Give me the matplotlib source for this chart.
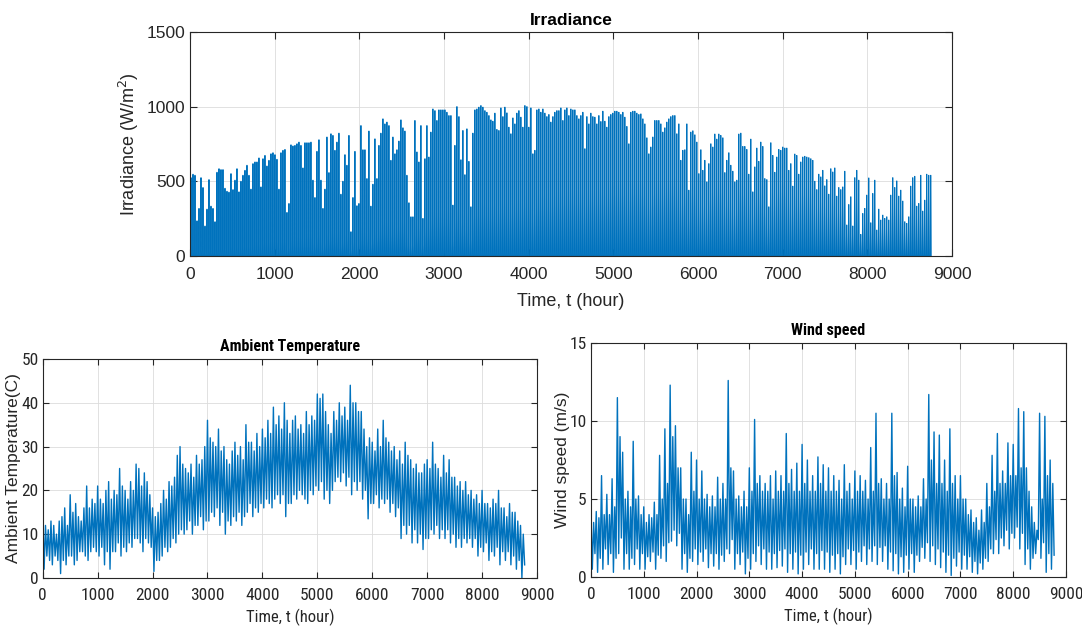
import numpy as np
import matplotlib.pyplot as plt

# daily peak irradiance (W/m^2), one value per day
irr_peak = [
    524, 547, 540, 235, 318, 524, 458, 200, 313, 511, 333, 318, 229, 560, 584, 578, 578, 453, 433, 427,
    551, 444, 507, 584, 429, 500, 540, 573, 607, 540, 447, 618, 629, 629, 656, 462, 651, 673, 602, 640,
    684, 691, 678, 647, 447, 691, 707, 713, 291, 351, 744, 736, 740, 751, 762, 740, 589, 758, 758, 758,
    762, 507, 391, 700, 778, 507, 318, 447, 796, 558, 818, 807, 707, 762, 822, 413, 500, 678, 607, 807,
    162, 391, 700, 336, 351, 873, 711, 711, 518, 836, 333, 480, 784, 518, 740, 822, 918, 884, 896, 873,
    640, 796, 684, 711, 769, 911, 858, 836, 540, 356, 262, 262, 907, 696, 629, 873, 251, 651, 873, 662,
    829, 984, 973, 907, 978, 978,
    978, 978, 962, 940, 940, 340, 740, 1000, 933, 644, 840, 544, 851, 633, 329, 822, 978, 984, 996, 1007,
    996, 973, 962, 940, 911, 902, 956, 847, 840, 991, 933, 996, 958, 862, 818, 924, 884, 956, 973, 929,
    862, 1007, 1000, 862, 991, 684, 707, 978, 984, 962, 984, 956, 933, 947, 896, 933, 962, 973, 973, 991,
    907, 978, 991, 940, 984, 978, 978, 940, 918, 940, 962, 718, 933, 884, 956, 933, 929, 884, 940, 900,
    969, 902, 862, 933, 947, 956, 969, 969, 962, 947, 962, 929, 867, 751, 962, 969, 969, 956, 947, 951,
    918, 884, 791, 684, 729, 796, 907, 907, 907, 884, 829, 858, 896, 918, 933, 940, 940, 818, 884, 640,
    707, 711, 884,
    440, 829, 838, 811, 762, 551, 711, 573, 640, 496, 618, 751, 729, 816, 782, 816, 807, 791, 558, 640,
    691, 607, 567, 496, 507, 816, 822, 733, 733, 713, 547, 782, 429, 596, 722, 633, 762, 733, 518, 511,
    329, 758, 673, 560, 662, 713, 707, 729, 722, 722, 573, 618, 467, 682, 673, 547, 629, 662, 667, 662,
    658, 651, 640, 500, 444, 547, 529, 573, 469, 511, 413, 584, 562, 589, 400, 458, 444, 462, 567, 207,
    344, 396, 200, 524, 573, 507, 144, 284, 318, 407, 522, 222, 418, 507, 173, 313, 240, 273, 251, 262,
    240, 407, 524, 458, 502, 400, 440, 367, 229, 218, 262, 467, 524, 533, 333, 351, 540, 300, 373, 547,
    540, 540,
]

# ambient temperature (C): high / low of each 50-hour block
temp_hi = [15, 12, 11, 13, 12, 10, 13, 14, 16, 12, 19, 15, 17, 14, 13, 16, 21, 16, 18, 17,
           21, 18, 17, 20, 22, 18, 20, 19, 25, 21, 20, 18, 22, 20, 26, 25, 21, 24, 22, 19,
           16, 14, 15, 17, 20, 18, 22, 21, 23, 28, 30, 26, 25, 24, 26, 23, 28, 26, 27, 30,
           36, 32, 31, 30, 34, 29, 30, 27, 26, 29, 31, 28, 30, 27, 35, 31, 31, 29, 33, 30,
           34, 32, 36, 33, 39, 35, 37, 34, 40, 36, 33, 36, 37, 34, 35, 33, 38, 35, 37, 36,
           42, 41, 42, 38, 35, 33, 38, 36, 40, 37, 39, 36, 44, 40, 40, 38, 38, 34, 30, 32,
           31, 29, 34, 30, 36, 32, 31, 29, 30, 27, 29, 26, 31, 28, 27, 25, 26, 24, 24, 26,
           27, 25, 31, 26, 25, 23, 28, 24, 27, 23, 23, 21, 22, 20, 22, 19, 20, 18, 19, 17,
           20, 17, 17, 16, 18, 17, 20, 16, 16, 14, 17, 15, 15, 13, 12, 10]
temp_lo = [2, 5, 4, 3, 5, 4, 1, 4, 3, 5, 5, 3, 4, 6, 6, 5, 4, 6, 7, 6,
           5, 7, 3, 6, 2, 6, 6, 8, 5, 7, 6, 8, 7, 9, 9, 8, 6, 9, 8, 7,
           1.5, 4, 4, 5, 7, 6, 7, 9, 8, 10, 11, 10, 11, 13, 10, 12, 12, 14, 11, 13,
           13, 15, 14, 16, 12, 15, 10, 13, 12, 14, 13, 15, 12, 14, 15, 17, 14, 16, 15, 17,
           16, 18, 17, 16, 18, 19, 17, 19, 14, 17, 17, 19, 18, 20, 19, 18, 17, 20, 19, 21,
           20, 22, 18, 20, 17, 20, 22, 23, 22, 24, 21, 23, 19, 22, 20, 22, 18, 20, 13.5, 17,
           17, 19, 16, 18, 17, 18, 15, 17, 14, 16, 9, 12, 10, 12, 8, 11, 8, 10, 6.5, 9,
           9, 11, 10, 12, 9, 11, 9, 11, 8, 10, 7, 9, 7, 9, 8, 9, 7, 9, 5, 7,
           6, 8, 4, 6, 5, 7, 3, 6, 4, 6, 3, 5, 2, 4, 0, 3]

# wind speed (m/s): high / low of each 50-hour block
wind_hi = [4.0, 3.5, 4.2, 3.8, 6.5, 4.0, 5.3, 4.0, 6.3, 4.5, 11.5, 9.0, 8.0, 5.0, 5.5, 4.5, 8.7, 5.0, 5.2, 4.0,
           4.5, 3.5, 4.0, 3.8, 4.8, 4.0, 7.8, 5.0, 9.5, 6.0, 12.3, 9.0, 9.7, 7.0, 7.0, 5.0, 5.0, 4.0, 8.0, 5.5,
           7.5, 5.0, 6.8, 5.0, 5.3, 4.5, 5.2, 4.5, 6.4, 5.0, 6.0, 5.0, 12.6, 7.0, 6.8, 5.0, 5.2, 4.5, 5.5, 4.5,
           7.0, 5.5, 10.1, 6.0, 6.5, 5.5, 6.0, 5.5, 6.5, 5.0, 6.8, 5.5, 6.5, 5.5, 9.2, 6.0, 6.9, 5.5, 7.3, 5.5,
           8.5, 6.0, 7.5, 5.5, 6.5, 5.5, 7.7, 6.0, 7.2, 5.5, 7.0, 5.5, 6.5, 5.5, 6.2, 5.0, 7.2, 5.5, 6.0, 5.0,
           6.8, 5.5, 6.5, 5.5, 6.2, 5.0, 8.3, 5.5, 10.5, 6.0, 6.3, 5.0, 6.0, 5.0, 10.5, 6.5, 6.7, 5.0, 5.7, 4.5,
           7.1, 5.0, 5.0, 4.5, 5.2, 4.5, 6.3, 5.0, 11.7, 7.5, 9.3, 6.0, 9.1, 6.0, 7.5, 5.5, 9.5, 6.0, 6.5, 5.0,
           6.5, 5.0, 5.0, 4.0, 4.3, 3.5, 3.8, 3.0, 4.3, 3.5, 6.0, 4.5, 7.8, 5.5, 9.2, 6.0, 6.8, 6.0, 8.6, 6.5,
           8.5, 6.5, 10.8, 7.0, 10.6, 7.0, 5.5, 4.5, 3.5, 3.0, 10.5, 5.0, 10.3, 6.5, 7.5, 6.0]
wind_lo = [0.5, 1.5, 0.3, 1.2, 0.5, 1.8, 0.8, 1.5, 0.3, 1.2, 1.5, 2.5, 0.5, 1.5, 0.5, 1.2, 0.8, 1.8, 0.5, 1.5,
           0.5, 1.3, 1.0, 1.6, 0.5, 1.4, 1.2, 2.0, 1.0, 2.2, 2.3, 3.0, 2.0, 2.8, 0.5, 1.5, 0.3, 1.2, 1.0, 1.8,
           0.8, 1.6, 1.0, 1.8, 0.6, 1.5, 0.7, 1.5, 0.5, 1.4, 1.0, 1.8, 1.5, 2.4, 0.5, 1.5, 0.8, 1.6, 0.2, 1.2,
           0.5, 1.5, 1.0, 2.0, 0.8, 1.8, 0.5, 1.6, 0.5, 1.5, 0.6, 1.7, 0.7, 1.8, 0.3, 1.5, 0.5, 1.6, 0.2, 1.4,
           0.5, 1.6, 0.8, 1.8, 0.5, 1.5, 0.5, 1.7, 0.5, 1.6, 0.3, 1.4, 0.5, 1.5, 0.2, 1.3, 0.8, 1.8, 0.8, 1.7,
           0.5, 1.6, 1.0, 2.0, 0.8, 1.8, 1.0, 2.0, 0.8, 1.9, 1.0, 2.0, 0.5, 1.6, 0.4, 1.5, 0.2, 1.3, 0.3, 1.4,
           0.5, 1.5, 0.3, 1.4, 1.0, 1.9, 1.2, 2.2, 1.0, 2.0, 0.8, 1.8, 0.6, 1.6, 0.3, 1.4, 0.1, 1.2, 0.7, 1.6,
           0.5, 1.4, 0.5, 1.3, 0.3, 1.0, 0.2, 0.9, 0.5, 1.2, 1.0, 1.8, 1.5, 2.4, 1.5, 2.5, 2.0, 3.0, 1.8, 2.8,
           2.5, 3.2, 1.8, 2.8, 0.8, 1.8, 0.5, 1.2, 1.5, 2.4, 1.2, 2.2, 0.3, 1.5, 0.5, 1.4]

block = 50  # hours per envelope reading
blue = "#0072BD"
wide = ["Liberation Sans", "DejaVu Sans"]
narrow = ["Roboto Condensed", "Liberation Sans", "DejaVu Sans"]

plt.rcParams["font.family"] = wide


def zigzag(hi, lo):
    t = np.arange(len(hi)) * block
    x = np.column_stack([t, t + block / 2]).ravel()
    y = np.column_stack([hi, lo]).ravel()
    return x, y


def style(ax, tick_len):
    ax.grid(True, color="#DCDCDC", linewidth=0.6)
    ax.set_axisbelow(True)
    ax.tick_params(direction="in", top=True, right=True, length=tick_len,
                   width=0.8, colors="#262626")
    for s in ax.spines.values():
        s.set_color("#262626")
        s.set_linewidth(0.8)


fig = plt.figure(figsize=(10.82, 6.35), dpi=100)

# --- Irradiance ---
ax1 = fig.add_axes([0.1756, 0.5969, 0.7043, 0.3527])
n_days = len(irr_peak)
day = 8760 / n_days
t0 = np.arange(n_days) * day
z = np.zeros(n_days)
irr_t = np.column_stack([t0 + 0.25 * day, t0 + 0.42 * day, t0 + 0.58 * day, t0 + 0.75 * day]).ravel()
irr_v = np.column_stack([z, irr_peak, irr_peak, z]).ravel()
ax1.plot(irr_t, irr_v, color=blue, linewidth=0.7)
ax1.set_xlim(0, 9000)
ax1.set_ylim(0, 1500)
ax1.set_xticks(np.arange(0, 9001, 1000))
ax1.set_yticks([0, 500, 1000, 1500])
style(ax1, 5)
ax1.tick_params(labelsize=12.5, colors="#262626")
ax1.tick_params(axis="x", pad=8)
ax1.set_title("Irradiance", fontsize=12.5, fontweight="bold", pad=5)
ax1.set_xlabel("Time, t (hour)", fontsize=13, color="#262626", labelpad=8)
ax1.set_ylabel("Irradiance (W/m$^2$)", fontsize=13, color="#262626")

# --- Ambient temperature ---
ax2 = fig.add_axes([0.0395, 0.0898, 0.4568, 0.3449])
tx, ty = zigzag(temp_hi, temp_lo)
ax2.plot(tx, ty, color=blue, linewidth=1.0)
ax2.set_xlim(0, 9000)
ax2.set_ylim(0, 50)
ax2.set_xticks(np.arange(0, 9001, 1000))
ax2.set_yticks(np.arange(0, 51, 10))
style(ax2, 4)
ax2.tick_params(labelsize=12.5)
ax2.tick_params(axis="x", pad=7)
ax2.tick_params(axis="y", pad=3)
ax2.set_title("Ambient Temperature", fontsize=11.5, fontweight="bold", family=narrow, pad=6)
ax2.set_xlabel("Time, t (hour)", fontsize=12, family=narrow, color="#262626", labelpad=4)
ax2.set_ylabel("Ambient Temperature(C)", fontsize=12.5, color="#262626", labelpad=0)

# --- Wind speed ---
ax3 = fig.add_axes([0.5462, 0.0913, 0.4390, 0.3685])
wx, wy = zigzag(wind_hi, wind_lo)
ax3.plot(wx, wy, color=blue, linewidth=1.0)
ax3.set_xlim(0, 9000)
ax3.set_ylim(0, 15)
ax3.set_xticks(np.arange(0, 9001, 1000))
ax3.set_yticks([0, 5, 10, 15])
style(ax3, 4)
ax3.tick_params(labelsize=12.5)
ax3.tick_params(axis="x", pad=7)
ax3.tick_params(axis="y", pad=3)
ax3.set_title("Wind speed", fontsize=11.5, fontweight="bold", family=narrow, pad=6)
ax3.set_xlabel("Time, t (hour)", fontsize=12, family=narrow, color="#262626", labelpad=4)
ax3.set_ylabel("Wind speed (m/s)", fontsize=12.5, color="#262626", labelpad=0)

for ax in (ax2, ax3):
    for lbl in ax.get_xticklabels() + ax.get_yticklabels():
        lbl.set_family(narrow)

fig.savefig("out.png", dpi=100)
